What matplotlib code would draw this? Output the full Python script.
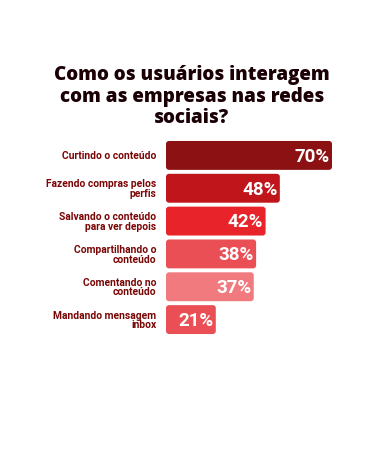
import matplotlib.pyplot as plt
from matplotlib.patches import FancyBboxPatch

categories = ['Curtindo o conteúdo', 'Fazendo compras pelos\nperfis',
              'Salvando o conteúdo\npara ver depois', 'Compartilhando o\nconteúdo',
              'Comentando no\nconteúdo', 'Mandando mensagem\ninbox']
values = [70, 48, 42, 38, 37, 21]
colors = ['#8b1113', '#c0161b', '#e8242a', '#ea4f55', '#f07a7e', '#ea4f55']

plt.rcParams['font.family'] = ['Roboto', 'DejaVu Sans']

fig = plt.figure(figsize=(3.9, 4.5), dpi=100)
ax = fig.add_axes([166 / 390, 114 / 450, 166 / 390, 197 / 450])

bars = ax.barh(range(len(values)), values, height=0.88, color=colors)
# swap plain bars for rounded ones
for b, c in zip(bars, colors):
    x, y = b.get_x(), b.get_y()
    w, h = b.get_width(), b.get_height()
    b.set_visible(False)
    ax.add_patch(FancyBboxPatch((x, y), w, h, boxstyle='round,pad=0,rounding_size=1.3',
                                mutation_aspect=0.07, facecolor=c, edgecolor='none'))

for i, v in enumerate(values):
    ax.text(v - 1.0, i + 0.04, f'{v}%', ha='right', va='center', color='white',
            fontsize=13.5, fontweight='bold')

ax.set_xlim(0, 70)
ax.set_ylim(5.5, -0.5)
ax.set_yticks(range(len(categories)))
ax.set_yticklabels(categories, fontsize=7.4, fontweight='bold', color='#7a0505',
                   linespacing=0.95)
ax.tick_params(axis='y', length=0, pad=7)
ax.set_xticks([])
for s in ax.spines.values():
    s.set_visible(False)

fig.text(0.492, 0.856, 'Como os usuários interagem\ncom as empresas nas redes\nsociais?',
         ha='center', va='top', fontsize=13.5, fontweight='heavy', color='#1a0005',
         linespacing=1.12, family=['Open Sans', 'DejaVu Sans'])

fig.savefig('out.png', dpi=100)
